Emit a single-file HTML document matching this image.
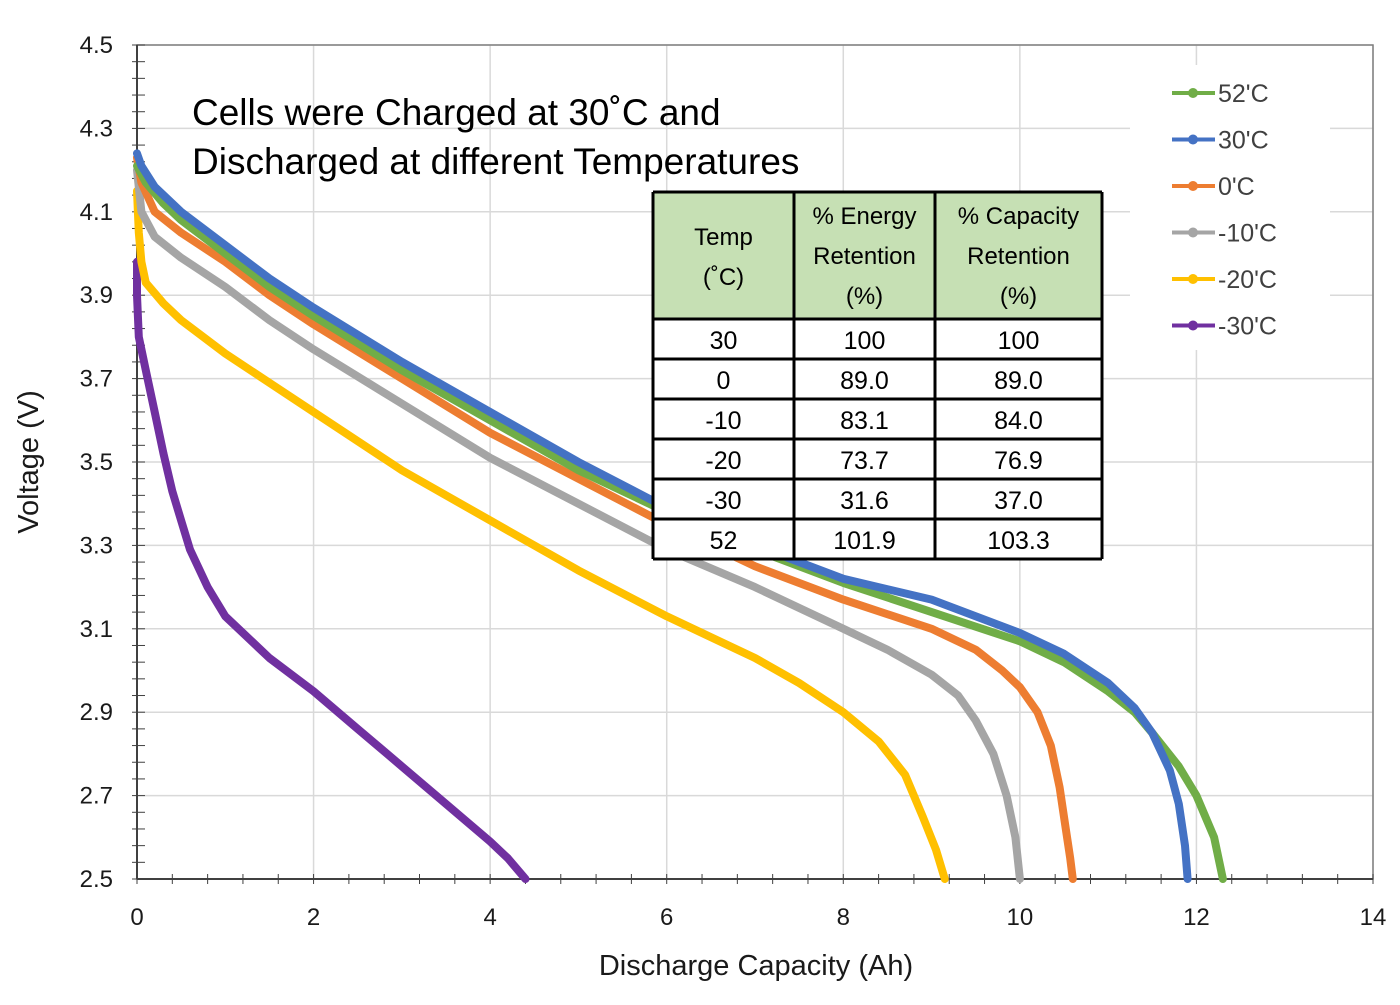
<!DOCTYPE html>
<html><head><meta charset="utf-8"><style>
body{margin:0;background:#fff;}
svg text{font-family:"Liberation Sans",sans-serif;}
</style></head><body>
<svg id="chart" width="1400" height="1000" xmlns="http://www.w3.org/2000/svg"></svg>
<script>
const xTicks=[0,2,4,6,8,10,12,14];
const yTicks=[2.5,2.7,2.9,3.1,3.3,3.5,3.7,3.9,4.1,4.3,4.5];
const seriesNames=["52'C","30'C","0'C","-10'C","-20'C","-30'C"];
const seriesColors=["#70ad47","#4472c4","#ed7d31","#a5a5a5","#ffc000","#7030a0"];
const s52=[[0,4.21],[0.1,4.17],[0.3,4.12],[0.5,4.08],[1,4.0],[1.5,3.92],[2,3.85],[3,3.72],[4,3.6],[5,3.48],[6,3.38],[7,3.29],[8,3.21],[9,3.14],[10,3.07],[10.5,3.02],[11,2.95],[11.3,2.9],[11.5,2.85],[11.8,2.77],[12,2.7],[12.2,2.6],[12.3,2.5]];
const s30=[[0,4.24],[0.05,4.21],[0.2,4.16],[0.5,4.1],[1,4.02],[1.5,3.94],[2,3.87],[3,3.74],[4,3.62],[5,3.5],[6,3.39],[7,3.3],[8,3.22],[9,3.17],[10,3.09],[10.5,3.04],[11,2.97],[11.3,2.91],[11.5,2.85],[11.7,2.76],[11.8,2.68],[11.87,2.58],[11.9,2.5]];
const s0=[[0,4.23],[0.05,4.17],[0.2,4.1],[0.5,4.05],[1,3.98],[1.5,3.9],[2,3.83],[3,3.7],[4,3.57],[5,3.46],[6,3.35],[7,3.25],[8,3.17],[9,3.1],[9.5,3.05],[9.8,3.0],[10,2.96],[10.2,2.9],[10.35,2.82],[10.45,2.72],[10.52,2.62],[10.57,2.55],[10.6,2.5]];
const sm10=[[0,4.2],[0.05,4.1],[0.2,4.04],[0.5,3.99],[1,3.92],[1.5,3.84],[2,3.77],[3,3.64],[4,3.51],[5,3.4],[6,3.29],[7,3.2],[8,3.1],[8.5,3.05],[9,2.99],[9.3,2.94],[9.5,2.88],[9.7,2.8],[9.85,2.7],[9.95,2.6],[10,2.5]];
const sm20=[[0,4.15],[0.02,4.05],[0.05,3.98],[0.1,3.93],[0.3,3.88],[0.5,3.84],[1,3.76],[2,3.62],[3,3.48],[4,3.36],[5,3.24],[6,3.13],[7,3.03],[7.5,2.97],[8,2.9],[8.4,2.83],[8.7,2.75],[8.9,2.65],[9.05,2.57],[9.15,2.5]];
const sm30=[[0,3.98],[0,3.9],[0.02,3.8],[0.1,3.72],[0.2,3.62],[0.3,3.52],[0.4,3.43],[0.5,3.36],[0.6,3.29],[0.8,3.2],[1,3.13],[1.5,3.03],[2,2.95],[2.5,2.86],[3,2.77],[3.5,2.68],[4,2.59],[4.2,2.55],[4.4,2.5]];
const tableHeader=["Temp\n(˚C)","% Energy\nRetention\n(%)","% Capacity\nRetention\n(%)"];
const tableRows=[["30","100","100"],["0","89.0","89.0"],["-10","83.1","84.0"],["-20","73.7","76.9"],["-30","31.6","37.0"],["52","101.9","103.3"]];

const NS="http://www.w3.org/2000/svg";
const svg=document.getElementById('chart');
const L=137,R=1373,T=45,B=879;
const xs=v=>L+(v-0)/14*(R-L);
const ys=v=>B-(v-2.5)/2*(B-T);
function mk(tag,attrs,parent){const e=document.createElementNS(NS,tag);for(const k in attrs)e.setAttribute(k,attrs[k]);(parent||svg).appendChild(e);return e;}

xTicks.forEach(t=>{if(t>0){const g=mk('line',{x1:xs(t),x2:xs(t),y1:T,y2:B,stroke:'#d9d9d9','stroke-width':1.5});

}});
yTicks.forEach(t=>{if(t>2.5){const g=mk('line',{x1:L,x2:R,y1:ys(t),y2:ys(t),stroke:'#d9d9d9','stroke-width':1.5});

}});
const br=mk('rect',{x:L,y:T,width:R-L,height:B-T,fill:'none',stroke:'#7f7f7f','stroke-width':1.5});


const xa=mk('line',{x1:L,x2:R,y1:B,y2:B,stroke:'#404040','stroke-width':2});


const ya=mk('line',{x1:L,x2:L,y1:T,y2:B,stroke:'#404040','stroke-width':2});


for(let v=0;v<=14.001;v+=0.4){const m=mk('line',{x1:xs(v),x2:xs(v),y1:B-5,y2:B+5,stroke:'#404040','stroke-width':1});

}
for(let v=2.5;v<=4.501;v+=0.04){const m=mk('line',{x1:L-5,x2:L+8,y1:ys(v),y2:ys(v),stroke:'#404040','stroke-width':1});

}
xTicks.forEach(t=>{const e=mk('text',{x:xs(t),y:B+46,'text-anchor':'middle','font-size':24,fill:'#1a1a1a'});e.textContent=t;

});
yTicks.forEach(t=>{const e=mk('text',{x:L-24,y:ys(t)+8,'text-anchor':'end','font-size':24,fill:'#1a1a1a'});e.textContent=t.toFixed(1);

});
const xt=mk('text',{x:756,y:975,'text-anchor':'middle','font-size':29,fill:'#1a1a1a'});xt.textContent='Discharge Capacity (Ah)';


const yt=mk('text',{x:38,y:462,'text-anchor':'middle','font-size':29,fill:'#1a1a1a',transform:'rotate(-90 38 462)'});yt.textContent='Voltage (V)';


const all=[s52,s30,s0,sm10,sm20,sm30];
const order=[5,4,3,2,0,1];
order.forEach(i=>{const d=all[i].map((p,j)=>(j?'L':'M')+xs(p[0]).toFixed(1)+' '+ys(p[1]).toFixed(1)).join(' ');
const p=mk('path',{d:d,fill:'none',stroke:seriesColors[i],'stroke-width':8,'stroke-linecap':'round','stroke-linejoin':'round'});

});
const t1=mk('text',{x:192,y:125,'font-size':37,fill:'#000'});t1.textContent='Cells were Charged at 30˚C and';


const t2=mk('text',{x:192,y:174,'font-size':37,fill:'#000'});t2.textContent='Discharged at different Temperatures';


const lg=mk('rect',{x:1130,y:65,width:200,height:285,fill:'#fff'});


seriesNames.forEach((n,i)=>{const y=93+i*46.5;const g=mk('g',{});


mk('line',{x1:1172,x2:1215,y1:y,y2:y,stroke:seriesColors[i],'stroke-width':4},g);
mk('circle',{cx:1193,cy:y,r:5,fill:seriesColors[i]},g);
const tx=mk('text',{x:1218,y:y+9,'font-size':25,fill:'#404040'},g);tx.textContent=n;});
const cx=[653,794,935,1102];const hT=192,hB=319,rh=40;
const tg=mk('g',{});


mk('rect',{x:653,y:hT,width:449,height:hB-hT,fill:'#c6e0b4'},tg);
mk('rect',{x:653,y:hB,width:449,height:rh*6,fill:'#fff'},tg);
for(let c=0;c<3;c++){const lines=tableHeader[c].split('\n');const mid=(cx[c]+cx[c+1])/2;
 const y0=lines.length===2?245:224;
 lines.forEach((ln,k)=>{const e=mk('text',{x:mid,y:y0+k*40,'text-anchor':'middle','font-size':24,fill:'#000'},tg);e.textContent=ln;});}
tableRows.forEach((r,i)=>{r.forEach((v,c)=>{const e=mk('text',{x:(cx[c]+cx[c+1])/2,y:hB+rh*i+30,'text-anchor':'middle','font-size':25,fill:'#000'},tg);e.textContent=v;});});
for(let i=0;i<=6;i++)mk('line',{x1:653,x2:1102,y1:hB+i*rh,y2:hB+i*rh,stroke:'#000','stroke-width':3},tg);
mk('line',{x1:653,x2:1102,y1:hT,y2:hT,stroke:'#000','stroke-width':3},tg);
cx.forEach(x=>mk('line',{x1:x,x2:x,y1:hT,y2:hB+6*rh,stroke:'#000','stroke-width':3},tg));
</script>
</body></html>
